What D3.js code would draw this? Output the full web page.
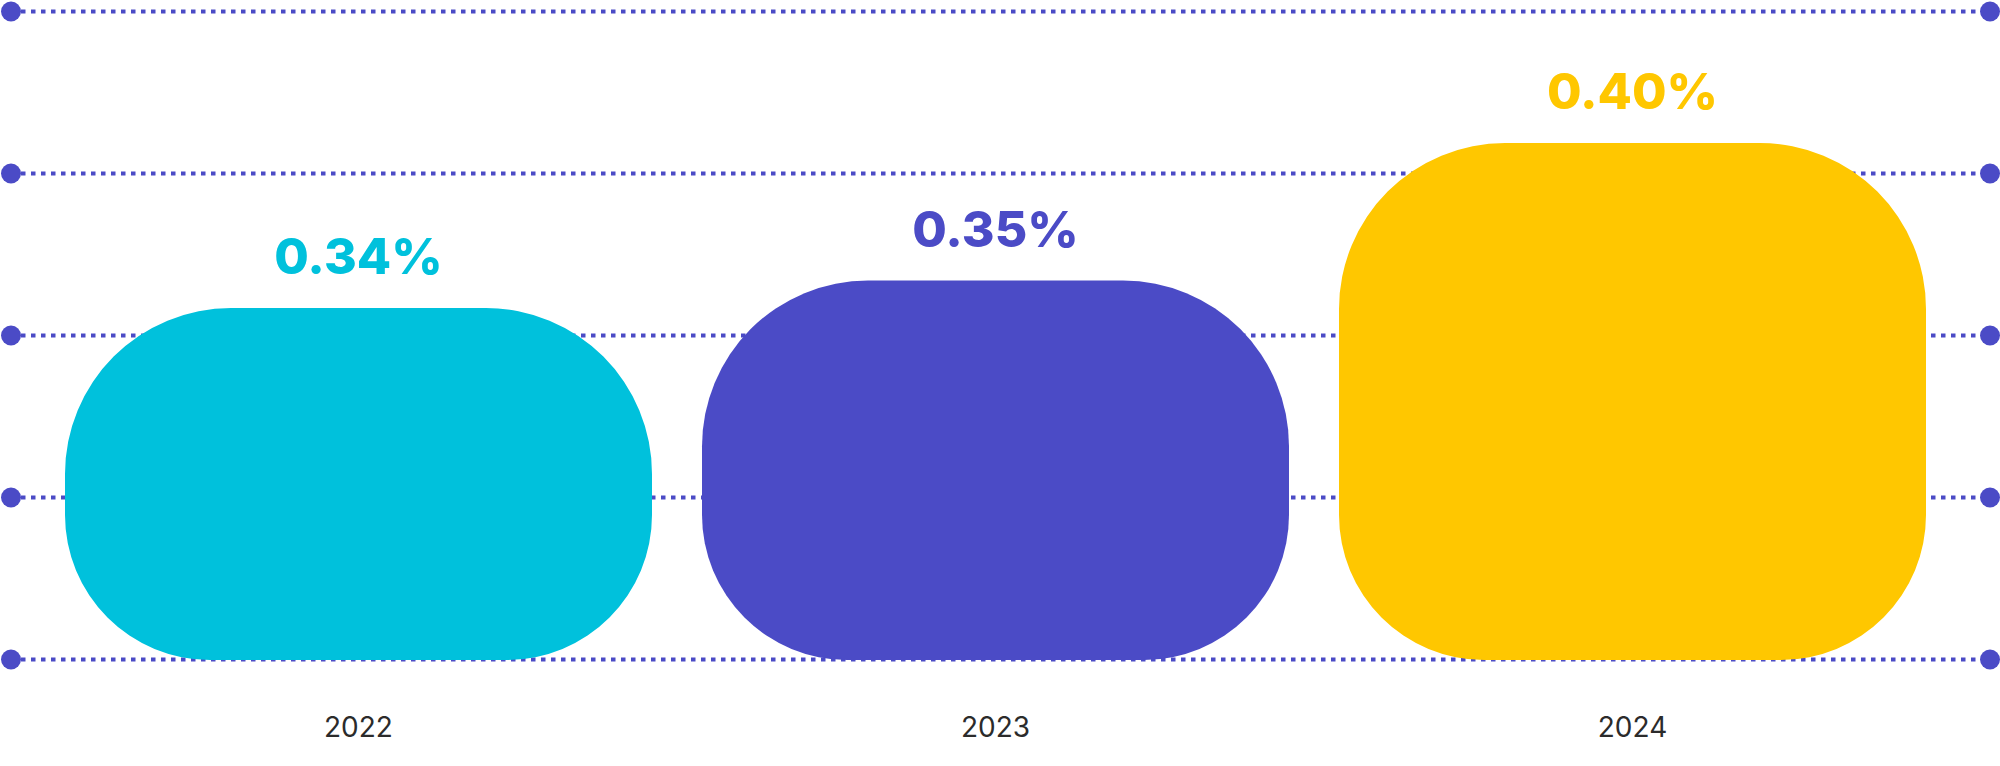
<!DOCTYPE html>
<html>
<head>
<meta charset="utf-8">
<script src="https://cdn.jsdelivr.net/npm/d3@7"></script>
<style>
    html, body { margin: 0; padding: 0; background: #ffffff; }
    svg { display: block; }
</style>
</head>
<body>
<svg id="barchart"></svg>
<script>
    // chart data
    var years = ["2022", "2023", "2024"];
    var rates = [0.34, 0.35, 0.40];
    var rateLabels = ["0.34%", "0.35%", "0.40%"];
    var barColors = ["#00c1dc", "#4b4bc6", "#ffc700"];
    var gridRows = [0, 1, 2, 3, 4];

    var data = years.map(function(y, i){
        return { year: y, rate: rates[i], label: rateLabels[i], color: barColors[i] };
    });

    var width = 2000;
    var height = 766;
    var lineColor = "#4b4bc6";

    var svg = d3.select("#barchart")
        .attr('width', width)
        .attr('height', height);

    // scales
    var xScale = d3.scaleBand()
        .domain(years)
        .range([65, 1926])
        .paddingInner(0.0785)
        .paddingOuter(0);

    var yScale = d3.scaleLinear()
        .domain([0.212, 0.452])
        .range([660, 0]);

    var gridScale = d3.scalePoint()
        .domain(gridRows)
        .range([11.5, 659.5]);

    // dotted guide lines behind the bars
    var grid = svg.append('g').attr('class', 'grid');

    grid.selectAll('line')
        .data(gridRows)
        .enter()
        .append('line')
        .attr('x1', 11)
        .attr('x2', 1990)
        .attr('y1', d => gridScale(d))
        .attr('y2', d => gridScale(d))
        .attr('stroke', lineColor)
        .attr('stroke-width', 4)
        .attr('stroke-dasharray', '4.5 5.5');

    grid.selectAll('circle.left')
        .data(gridRows)
        .enter()
        .append('circle')
        .attr('class', 'left')
        .attr('cx', 11)
        .attr('cy', d => gridScale(d))
        .attr('r', 10)
        .attr('fill', lineColor);

    grid.selectAll('circle.right')
        .data(gridRows)
        .enter()
        .append('circle')
        .attr('class', 'right')
        .attr('cx', 1990)
        .attr('cy', d => gridScale(d))
        .attr('r', 10)
        .attr('fill', lineColor);

    // bar outline: big top corners, slightly smaller bottom corners
    function barPath(x, y, w, h, rt, rb){
        var k = Math.min(1, h / (rt + rb));
        rt = rt * k; rb = rb * k;
        var p = d3.path();
        p.moveTo(x + rt, y);
        p.lineTo(x + w - rt, y);
        p.arcTo(x + w, y, x + w, y + rt, rt);
        p.lineTo(x + w, y + h - rb);
        p.arcTo(x + w, y + h, x + w - rb, y + h, rb);
        p.lineTo(x + rb, y + h);
        p.arcTo(x, y + h, x, y + h - rb, rb);
        p.lineTo(x, y + rt);
        p.arcTo(x, y, x + rt, y, rt);
        p.closePath();
        return p.toString();
    }

    var bars = svg.selectAll('.bar')
        .data(data)
        .enter()
        .append('g')
        .attr('class', 'bar');

    bars.append('path')
        .attr('d', function(d){
            var top = yScale(d.rate);
            return barPath(xScale(d.year), top, xScale.bandwidth(), yScale.range()[0] - top, 166, 145);
        })
        .attr('fill', d => d.color);

    // value labels
    bars.append('text')
        .attr('x', d => xScale(d.year) + xScale.bandwidth() / 2)
        .attr('y', d => yScale(d.rate) - 34)
        .attr('text-anchor', 'middle')
        .attr('font-family', 'Inter, Roboto, sans-serif')
        .attr('font-weight', 800)
        .attr('font-size', '50px')
        .attr('fill', d => d.color)
        .text(d => d.label);

    // year labels
    svg.append('g')
        .attr('class', 'xaxis')
        .selectAll('text')
        .data(years)
        .enter()
        .append('text')
        .attr('x', d => xScale(d) + xScale.bandwidth() / 2)
        .attr('y', 737)
        .attr('text-anchor', 'middle')
        .attr('font-family', 'Inter, Roboto, sans-serif')
        .attr('font-size', '28px')
        .attr('fill', '#2b2b2b')
        .text(d => d);
</script>
</body>
</html>
